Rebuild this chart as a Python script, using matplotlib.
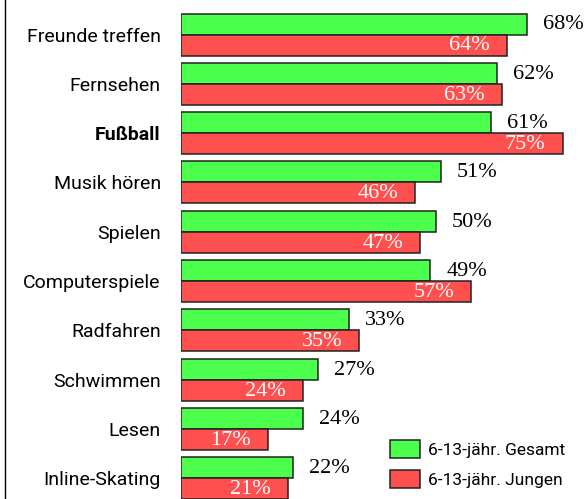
import matplotlib.pyplot as plt
from matplotlib.lines import Line2D

# Daten
kategorien = ["Freunde treffen", "Fernsehen", "Fußball", "Musik hören", "Spielen",
              "Computerspiele", "Radfahren", "Schwimmen", "Lesen", "Inline-Skating"]
gesamt = [68, 62, 61, 51, 50, 49, 33, 27, 24, 22]
jungen = [64, 63, 75, 46, 47, 57, 35, 24, 17, 21]
serien = ["6-13-jähr. Gesamt", "6-13-jähr. Jungen"]

GRUEN = "#4cff4c"
ROT = "#ff5050"
SANS = ["Roboto", "DejaVu Sans"]
SERIF = ["Liberation Serif", "DejaVu Serif"]

W, H = 585, 499
fig = plt.figure(figsize=(W / 100, H / 100), dpi=100)
ax = fig.add_axes([181 / W, 0, 1 - 181 / W, 1])

pitch = 49.3
bh = 21 / pitch
y = list(range(len(kategorien)))
yg = [i - bh / 2 for i in y]
yr = [i + bh / 2 for i in y]

bg = ax.barh(yg, gesamt, height=bh, color=GRUEN, edgecolor="#222222", linewidth=1.1)
br = ax.barh(yr, jungen, height=bh, color=ROT, edgecolor="#222222", linewidth=1.1)

px = 5.09  # Pixel pro Prozent
ax.set_xlim(0, (W - 181) / px)
ax.set_ylim((H - 34.5) / pitch, -34.5 / pitch)

for i in y:
    ax.text(gesamt[i] + 16 / px, yg[i] + 0.02, f"{gesamt[i]}%", ha="left", va="center",
            fontsize=16, family=SERIF, color="black")
    ax.text(jungen[i] - 17 / px, yr[i] + 0.02, f"{jungen[i]}%", ha="right", va="center",
            fontsize=16, family=SERIF, color="white")

ax.set_yticks(y)
ax.set_yticklabels(kategorien, family=SANS, fontsize=14)
ax.get_yticklabels()[2].set_fontweight("bold")
ax.tick_params(axis="y", length=0, pad=14.5)
ax.set_xticks([])
for s in ax.spines.values():
    s.set_visible(False)

leg = ax.legend([bg, br], serien, loc="upper left",
                bbox_to_anchor=(390 / W, 1 - 440 / H), bbox_transform=fig.transFigure,
                frameon=False, borderpad=0, borderaxespad=0,
                prop={"family": SANS, "size": 12.5},
                handlelength=1.72, handleheight=1.25, handletextpad=0.45, labelspacing=0.65)

fig.add_artist(Line2D([4.5 / W, 4.5 / W], [0, 1], transform=fig.transFigure,
                      color="black", linewidth=1))

fig.savefig("out.png", dpi=100)
